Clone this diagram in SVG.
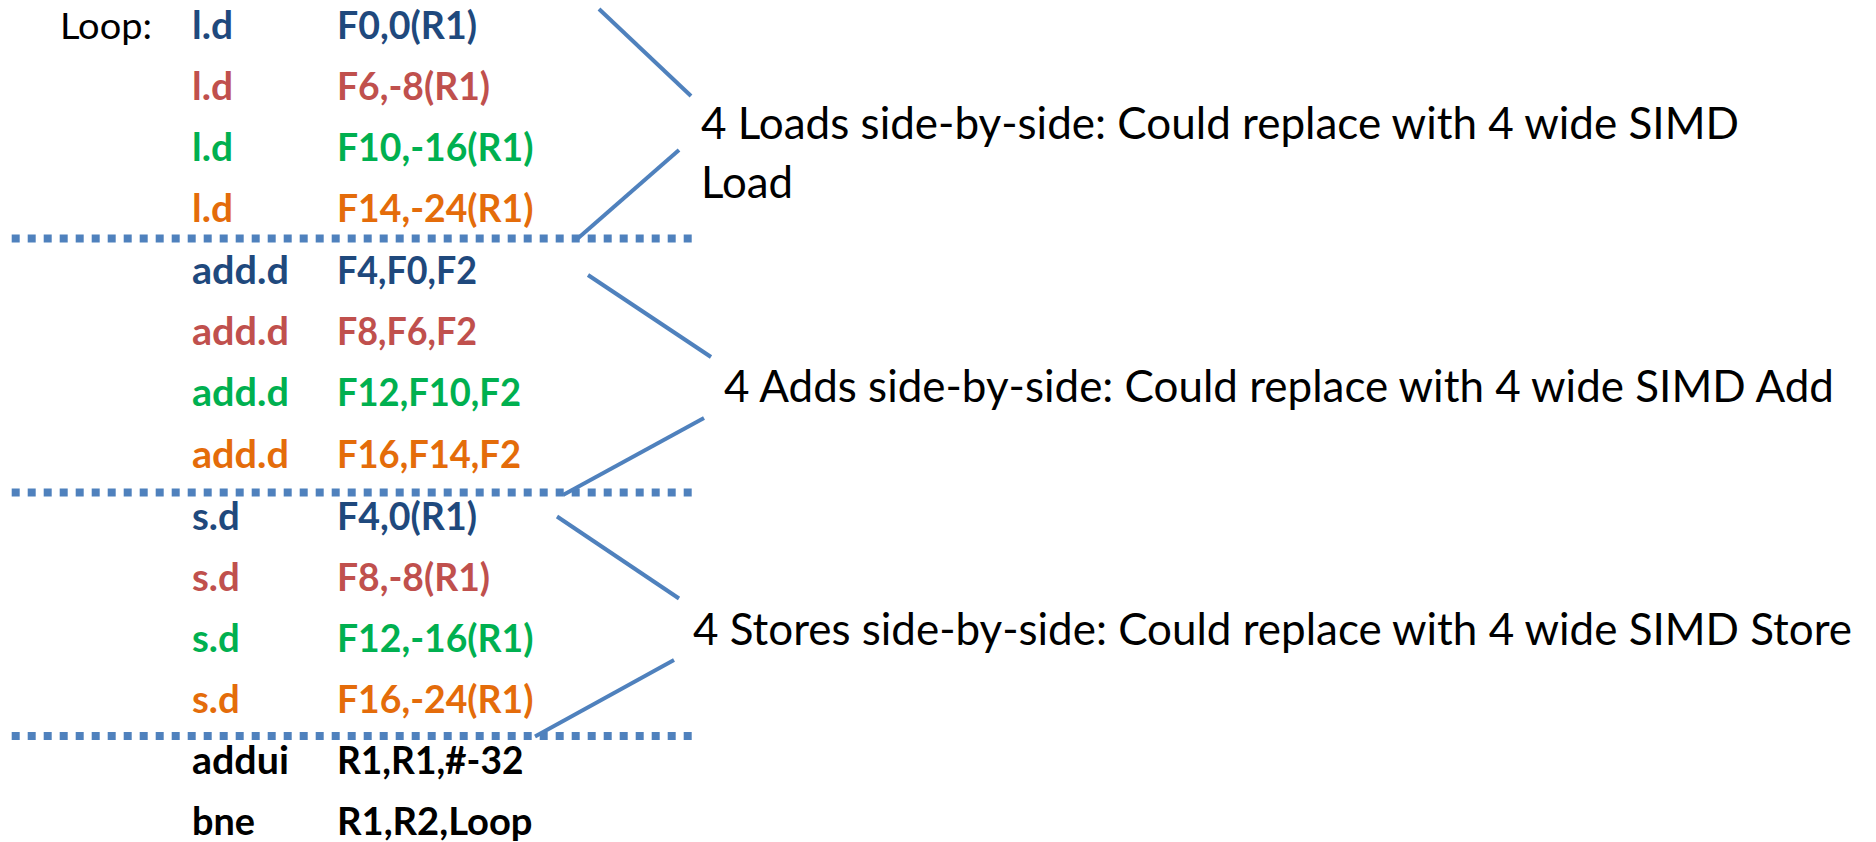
<svg xmlns="http://www.w3.org/2000/svg" width="1876" height="842" viewBox="0 0 1876 842">
<style>
text{font-family:Lato,"Open Sans","Liberation Sans",sans-serif;font-size:37.5px}
.c{font-weight:bold}
.b{fill:#1F497D}.r{fill:#C0504D}.g{fill:#00B050}.o{fill:#E46C0A}.k{fill:#000}
.note{font-weight:normal;fill:#000;font-size:44px}
.dot{stroke:#4F81BD;stroke-width:8;stroke-dasharray:8 8;fill:none}
.conn{stroke:#4F81BD;stroke-width:4;fill:none}
</style>
<rect width="1876" height="842" fill="#fff"/>
<g id="separators">
<line class="dot" x1="11.7" y1="238.5" x2="692" y2="238.5"/>
<line class="dot" x1="11.7" y1="492.5" x2="692" y2="492.5"/>
<line class="dot" x1="11.7" y1="736" x2="692" y2="736"/>
</g>
<g id="connectors">
<line class="conn" x1="599" y1="9" x2="691" y2="96"/>
<line class="conn" x1="679" y1="150" x2="576" y2="240"/>
<line class="conn" x1="588" y1="275" x2="711" y2="357"/>
<line class="conn" x1="704" y1="418" x2="563" y2="495"/>
<line class="conn" x1="557" y1="516.5" x2="679" y2="598.5"/>
<line class="conn" x1="674" y1="660" x2="535" y2="736.5"/>
</g>
<g id="code">
<text x="60" y="38.5" class="k" textLength="92" lengthAdjust="spacingAndGlyphs">Loop:</text>
<g id="load1"><text x="192" y="38.5" class="c b" textLength="41" lengthAdjust="spacingAndGlyphs">l.d</text><text x="337" y="38.5" class="c b" textLength="140" lengthAdjust="spacingAndGlyphs">F0,0(R1)</text></g>
<g id="load2"><text x="192" y="99.8" class="c r" textLength="41" lengthAdjust="spacingAndGlyphs">l.d</text><text x="337" y="99.8" class="c r" textLength="153" lengthAdjust="spacingAndGlyphs">F6,-8(R1)</text></g>
<g id="load3"><text x="192" y="161.1" class="c g" textLength="41" lengthAdjust="spacingAndGlyphs">l.d</text><text x="337" y="161.1" class="c g" textLength="196.5" lengthAdjust="spacingAndGlyphs">F10,-16(R1)</text></g>
<g id="load4"><text x="192" y="222.4" class="c o" textLength="41" lengthAdjust="spacingAndGlyphs">l.d</text><text x="337" y="222.4" class="c o" textLength="196.5" lengthAdjust="spacingAndGlyphs">F14,-24(R1)</text></g>
<g id="add1"><text x="192" y="283.7" class="c b" textLength="97" lengthAdjust="spacingAndGlyphs">add.d</text><text x="337" y="283.7" class="c b" textLength="140" lengthAdjust="spacingAndGlyphs">F4,F0,F2</text></g>
<g id="add2"><text x="192" y="345" class="c r" textLength="97" lengthAdjust="spacingAndGlyphs">add.d</text><text x="337" y="345" class="c r" textLength="140" lengthAdjust="spacingAndGlyphs">F8,F6,F2</text></g>
<g id="add3"><text x="192" y="406.3" class="c g" textLength="97" lengthAdjust="spacingAndGlyphs">add.d</text><text x="337" y="406.3" class="c g" textLength="184" lengthAdjust="spacingAndGlyphs">F12,F10,F2</text></g>
<g id="add4"><text x="192" y="467.6" class="c o" textLength="97" lengthAdjust="spacingAndGlyphs">add.d</text><text x="337" y="467.6" class="c o" textLength="184" lengthAdjust="spacingAndGlyphs">F16,F14,F2</text></g>
<g id="store1"><text x="192" y="529.5" class="c b" textLength="47.7" lengthAdjust="spacingAndGlyphs">s.d</text><text x="337" y="529.5" class="c b" textLength="140" lengthAdjust="spacingAndGlyphs">F4,0(R1)</text></g>
<g id="store2"><text x="192" y="590.8" class="c r" textLength="47.7" lengthAdjust="spacingAndGlyphs">s.d</text><text x="337" y="590.8" class="c r" textLength="153" lengthAdjust="spacingAndGlyphs">F8,-8(R1)</text></g>
<g id="store3"><text x="192" y="652.1" class="c g" textLength="47.7" lengthAdjust="spacingAndGlyphs">s.d</text><text x="337" y="652.1" class="c g" textLength="196.5" lengthAdjust="spacingAndGlyphs">F12,-16(R1)</text></g>
<g id="store4"><text x="192" y="713.4" class="c o" textLength="47.7" lengthAdjust="spacingAndGlyphs">s.d</text><text x="337" y="713.4" class="c o" textLength="196.5" lengthAdjust="spacingAndGlyphs">F16,-24(R1)</text></g>
<g id="addui"><text x="192" y="774" class="c k" textLength="97" lengthAdjust="spacingAndGlyphs">addui</text><text x="337" y="774" class="c k" textLength="186.5" lengthAdjust="spacingAndGlyphs">R1,R1,#-32</text></g>
<g id="bne"><text x="192" y="835" class="c k" textLength="63" lengthAdjust="spacingAndGlyphs">bne</text><text x="337" y="835" class="c k" textLength="195.5" lengthAdjust="spacingAndGlyphs">R1,R2,Loop</text></g>
</g>
<g id="note-loads">
<text class="note" x="701" y="139.3" textLength="1038" lengthAdjust="spacingAndGlyphs">4 Loads side-by-side: Could replace with 4 wide SIMD</text>
<text class="note" x="701" y="197.5" textLength="92" lengthAdjust="spacingAndGlyphs">Load</text>
</g>
<g id="note-adds">
<text class="note" x="724" y="402" textLength="1110" lengthAdjust="spacingAndGlyphs">4 Adds side-by-side: Could replace with 4 wide SIMD Add</text>
</g>
<g id="note-stores">
<text class="note" x="693" y="645" textLength="1159" lengthAdjust="spacingAndGlyphs">4 Stores side-by-side: Could replace with 4 wide SIMD Store</text>
</g>
</svg>
